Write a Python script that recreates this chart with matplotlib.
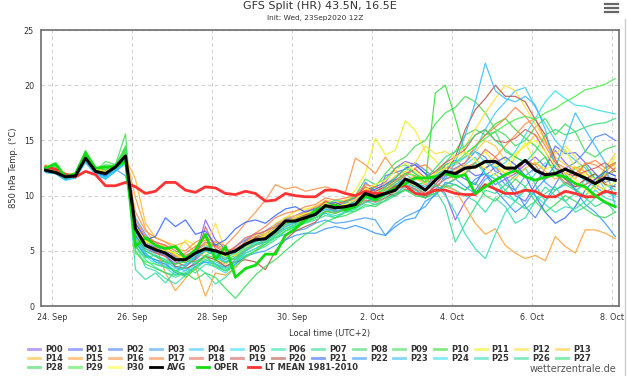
import numpy as np
import pandas as pd
import matplotlib
matplotlib.use("Agg")
import matplotlib.pyplot as plt
import matplotlib.dates as mdates
from matplotlib.lines import Line2D

# 6-hourly steps, local time (UTC+2), run 23Sep2020 12Z
times = pd.date_range("2020-09-23 20:00", periods=58, freq="6h")

avg = [12.3, 12.1, 11.7, 11.8, 13.4, 12.2, 12.0, 12.6, 13.6,
       7.0, 5.5, 5.1, 4.8, 4.2, 4.2, 4.8, 5.2, 5.0, 4.7, 5.0, 5.6, 6.0, 6.1, 6.8, 7.7, 7.7, 8.0, 8.3,
       9.1, 8.9, 9.0, 9.2, 10.2, 9.9, 10.2, 10.5, 11.5, 11.1, 10.5, 11.4, 12.2,
       12.0, 12.5, 12.6, 13.1, 13.1, 12.5, 12.5, 13.2, 12.3, 11.9, 12.0, 12.4, 12.0, 11.6, 11.1, 11.6, 11.4]

oper = [12.5, 12.9, 11.7, 12.0, 13.9, 12.5, 12.6, 12.6, 13.1,
        5.4, 6.2, 5.5, 5.2, 5.4, 4.3, 5.1, 6.5, 4.2, 5.4, 2.6, 3.4, 3.7, 4.7, 4.7, 6.4, 7.0, 7.8, 8.7,
        9.0, 9.15, 8.7, 9.0, 10.0, 9.6, 10.2, 10.7, 11.1, 11.6, 11.6, 11.7, 12.0,
        11.7, 11.9, 10.2, 10.8, 11.4, 11.9, 12.3, 11.7, 11.4, 11.7, 11.9, 11.7, 11.1, 10.8, 10.0, 9.4, 9.0]

lt_mean = [12.6, 12.4, 11.9, 11.7, 12.2, 11.9, 10.9, 10.9, 11.2,
           10.8, 10.2, 10.4, 11.2, 11.2, 10.5, 10.3, 10.8, 10.7, 10.2, 10.1, 10.4, 10.2, 9.5, 9.6, 10.2, 10.0, 9.9, 9.9,
           10.5, 10.5, 10.2, 10.0, 10.4, 10.2, 10.2, 10.8, 10.9, 10.2, 10.1, 10.5, 10.5,
           10.2, 10.1, 10.1, 11.0, 10.6, 10.2, 10.2, 10.5, 10.4, 9.9, 9.9, 10.4, 10.2, 9.9, 9.9, 10.4, 10.2]

p00 = [12.4, 12.2, 11.8, 11.9, 13.3, 12.3, 12.1, 12.7, 13.8,
       7.5, 6.2, 5.8, 5.0, 4.6, 3.9, 4.5, 7.8, 6.0, 5.2, 4.8, 5.5, 6.2, 6.8, 7.4, 7.9, 8.2, 8.6, 8.9,
       9.3, 9.0, 9.4, 9.8, 10.5, 10.8, 11.2, 12.5, 13.1, 12.8, 12.0, 11.0, 10.2,
       7.8, 9.5, 10.5, 11.8, 12.6, 11.5, 12.0, 12.8, 13.5, 12.6, 14.1, 13.0, 12.0, 11.5, 11.0, 12.2, 11.8]
p01 = [12.2, 12.0, 11.6, 11.7, 13.5, 12.1, 11.9, 12.5, 13.5,
       6.8, 5.4, 4.9, 4.6, 3.8, 4.5, 4.2, 5.0, 5.6, 5.2, 4.6, 5.9, 6.3, 6.0, 7.2, 7.5, 8.0, 8.1, 8.4,
       9.0, 8.6, 8.8, 9.6, 10.0, 9.5, 11.8, 12.1, 12.4, 13.0, 12.3, 11.5, 12.8,
       13.2, 12.5, 11.8, 12.0, 11.0, 11.5, 10.0, 9.5, 11.0, 12.5, 14.5, 13.8, 13.9, 13.0, 12.0, 11.2, 11.6]
p02 = [12.5, 12.3, 11.9, 11.8, 13.2, 12.4, 12.2, 12.8, 14.0,
       7.2, 5.8, 5.3, 5.2, 4.4, 4.0, 5.0, 5.6, 4.8, 4.2, 5.4, 6.0, 6.6, 6.5, 7.0, 7.8, 7.6, 8.2, 8.5,
       9.5, 9.0, 9.3, 9.5, 11.2, 10.4, 10.8, 11.5, 11.0, 10.6, 9.8, 10.5, 11.8,
       12.5, 13.0, 14.0, 13.5, 12.2, 11.8, 10.5, 9.0, 8.0, 9.5, 11.0, 12.5, 13.0, 14.0, 15.3, 15.6, 15.0]
p03 = [12.1, 12.0, 11.5, 11.6, 13.6, 12.0, 11.8, 12.4, 11.8,
       8.0, 6.5, 5.5, 4.8, 3.5, 3.2, 4.0, 4.5, 3.8, 3.5, 4.2, 5.0, 5.5, 5.8, 6.2, 6.5, 6.8, 7.0, 7.5,
       7.8, 7.5, 7.6, 7.8, 8.0, 7.8, 6.4, 7.5, 8.1, 8.5, 9.0, 10.2, 11.0,
       11.5, 10.8, 10.2, 11.5, 12.0, 11.0, 10.5, 11.8, 12.5, 11.2, 10.5, 11.0, 12.0, 11.4, 10.8, 10.2, 11.0]
p04 = [12.3, 12.1, 11.6, 11.8, 13.3, 12.2, 11.6, 12.3, 13.2,
       6.5, 5.0, 4.5, 4.0, 3.0, 3.6, 4.3, 5.5, 4.5, 4.0, 4.4, 5.2, 5.8, 6.3, 7.2, 8.0, 7.8, 8.4, 8.6,
       9.2, 8.8, 9.0, 9.5, 10.5, 9.8, 10.0, 10.8, 12.0, 11.2, 10.5, 11.8, 12.5,
       12.8, 13.5, 14.2, 16.0, 17.5, 18.5, 19.5, 19.8, 18.0, 16.5, 15.0, 14.0, 13.2, 12.5, 11.5, 12.0, 11.2]
p05 = [12.2, 12.0, 11.4, 11.7, 13.1, 12.1, 11.5, 12.2, 13.0,
       6.0, 4.5, 3.8, 3.5, 2.8, 3.2, 3.8, 4.0, 3.5, 3.0, 3.8, 4.8, 5.2, 5.6, 6.4, 7.0, 7.3, 7.8, 8.0,
       8.6, 8.8, 9.0, 9.0, 9.8, 9.5, 9.8, 10.0, 11.0, 10.5, 10.0, 10.8, 11.5,
       12.0, 12.8, 13.5, 12.0, 11.5, 10.0, 9.5, 10.8, 12.0, 13.0, 12.5, 11.5, 10.5, 11.0, 12.0, 10.5, 9.8]
p06 = [12.4, 12.2, 11.8, 11.9, 13.6, 12.3, 12.0, 12.6, 13.7,
       5.5, 4.2, 3.5, 3.0, 2.6, 3.0, 3.6, 3.0, 2.0, 2.6, 3.5, 4.5, 5.0, 5.6, 6.2, 6.8, 7.2, 7.6, 8.0,
       8.4, 8.0, 8.5, 8.8, 9.5, 9.2, 9.8, 10.2, 10.8, 10.5, 10.0, 10.2, 11.0,
       10.5, 10.0, 9.5, 8.5, 9.8, 9.0, 7.5, 8.0, 9.5, 10.8, 10.0, 9.5, 10.2, 11.5, 12.0, 11.0, 10.5]
p07 = [12.3, 12.4, 11.7, 11.8, 13.9, 12.4, 12.1, 12.8, 14.2,
       6.2, 4.8, 4.0, 3.8, 3.2, 2.8, 3.3, 4.2, 4.0, 3.6, 4.0, 5.0, 5.5, 6.0, 6.5, 7.2, 7.5, 7.8, 8.2,
       8.8, 8.5, 8.6, 9.0, 9.8, 9.6, 10.0, 10.6, 11.2, 10.8, 10.2, 10.5, 9.0,
       5.8, 7.5, 9.0, 10.5, 10.2, 11.0, 11.8, 12.5, 11.0, 9.5, 10.5, 11.2, 10.6, 9.8, 9.0, 9.5, 8.5]
p08 = [12.6, 12.3, 11.9, 12.0, 13.2, 12.5, 12.3, 12.9, 13.9,
       5.8, 4.5, 4.2, 4.0, 3.5, 3.8, 4.4, 5.0, 4.6, 4.2, 4.6, 5.4, 5.8, 6.2, 7.0, 7.6, 7.9, 8.2, 8.6,
       9.4, 9.2, 9.5, 10.0, 11.5, 11.0, 11.5, 12.5, 12.8, 12.0, 11.2, 12.0, 13.0,
       14.0, 15.5, 16.0, 15.5, 15.8, 14.0, 13.5, 13.0, 12.8, 13.5, 12.0, 11.0, 10.5, 10.0, 11.0, 12.5, 13.0]
p09 = [12.3, 12.9, 11.6, 11.8, 14.1, 12.2, 13.1, 12.8, 15.6,
       5.2, 5.8, 5.5, 5.3, 4.8, 4.4, 4.0, 4.6, 5.0, 4.5, 4.2, 5.0, 5.6, 6.0, 6.5, 7.0, 7.4, 7.8, 8.0,
       8.5, 8.8, 9.2, 9.5, 10.2, 10.8, 12.0, 13.0, 13.5, 14.5, 15.0, 16.5, 17.5,
       18.0, 19.0, 18.5, 17.5, 16.0, 15.5, 14.5, 15.0, 16.2, 17.0, 15.5, 16.5, 15.8, 14.0, 13.5, 14.2, 14.5]
p10 = [12.5, 12.8, 11.8, 12.0, 13.8, 12.4, 12.4, 12.6, 14.3,
       6.5, 5.0, 4.5, 4.0, 3.8, 4.0, 4.5, 5.0, 4.8, 4.4, 4.8, 5.5, 5.8, 6.2, 7.0, 7.6, 7.8, 8.3, 8.7,
       9.3, 9.0, 9.0, 9.4, 10.0, 9.8, 10.5, 11.0, 11.4, 11.0, 11.2, 19.3, 20.0,
       17.0, 13.8, 14.5, 15.5, 16.5, 17.0, 16.0, 15.2, 14.5, 13.5, 12.0, 11.5, 12.5, 12.8, 11.5, 12.0, 12.2]
p11 = [12.6, 12.2, 11.9, 11.8, 13.4, 12.3, 12.0, 12.6, 13.6,
       6.0, 5.5, 5.2, 5.0, 4.8, 6.0, 5.5, 4.8, 5.8, 5.0, 4.6, 5.8, 6.2, 6.5, 7.5, 8.0, 8.6, 8.8, 9.0,
       9.5, 9.2, 9.6, 10.5, 12.0, 15.2, 13.7, 14.1, 16.8, 15.9, 14.0, 13.2, 12.0,
       11.5, 12.2, 13.0, 14.0, 12.8, 12.0, 13.5, 14.8, 13.0, 12.4, 12.8, 14.2, 12.5, 11.8, 10.5, 12.0, 13.5]
p12 = [12.7, 12.3, 11.8, 11.9, 13.3, 12.4, 12.1, 12.7, 13.8,
       7.0, 5.8, 5.5, 5.2, 4.6, 4.0, 4.8, 5.4, 7.5, 5.0, 4.5, 5.2, 6.0, 6.3, 6.8, 7.4, 7.6, 7.9, 8.4,
       9.0, 9.3, 9.2, 9.4, 10.8, 10.0, 10.4, 11.2, 12.2, 13.0, 14.5, 13.8, 14.0,
       13.5, 14.5, 16.0, 17.5, 18.8, 20.0, 19.5, 18.0, 16.5, 15.0, 13.8, 14.5, 13.5, 12.0, 11.5, 11.0, 12.8]
p13 = [12.8, 12.4, 12.0, 12.0, 13.2, 12.5, 12.2, 12.8, 13.9,
       7.4, 6.0, 5.6, 5.4, 4.5, 4.4, 5.2, 5.6, 5.0, 4.6, 5.0, 5.6, 6.4, 6.6, 7.2, 8.0, 8.2, 8.4, 8.8,
       9.6, 9.4, 9.6, 9.8, 10.6, 10.2, 11.0, 11.8, 12.2, 11.8, 11.0, 11.6, 12.4,
       12.8, 13.6, 14.0, 15.0, 14.5, 13.2, 13.8, 14.5, 15.5, 14.8, 13.5, 12.8, 12.5, 11.6, 11.2, 12.5, 13.8]
p14 = [12.7, 12.3, 11.9, 11.9, 13.5, 12.3, 12.0, 12.6, 13.4,
       11.5, 7.5, 6.2, 5.8, 5.5, 5.8, 4.8, 4.5, 4.2, 3.8, 4.4, 5.0, 5.5, 6.0, 6.8, 7.5, 7.8, 8.2, 8.6,
       9.4, 9.0, 9.2, 9.5, 10.4, 10.5, 11.2, 10.8, 11.5, 11.5, 11.2, 11.5, 12.0,
       12.2, 12.8, 12.5, 13.0, 12.6, 12.0, 11.5, 12.5, 13.0, 12.2, 11.5, 12.0, 12.6, 12.2, 11.0, 10.5, 10.2]
p15 = [12.6, 12.2, 11.8, 11.8, 13.3, 12.2, 11.9, 12.7, 13.7,
       9.8, 7.0, 5.5, 3.0, 1.4, 2.5, 3.5, 0.9, 3.0, 2.8, 3.5, 4.5, 5.0, 5.8, 6.5, 7.2, 8.0, 8.5, 9.0,
       9.4, 9.0, 9.5, 9.6, 10.0, 10.2, 10.5, 11.0, 11.4, 11.8, 11.5, 11.0, 10.8,
       10.5, 9.0, 7.5, 6.5, 7.0, 5.5, 4.8, 4.3, 4.6, 4.1, 6.3, 5.4, 4.8, 6.9, 6.9, 6.6, 6.1]
p16 = [12.5, 12.1, 11.7, 11.9, 13.4, 12.3, 12.0, 12.5, 13.5,
       8.5, 6.8, 6.2, 5.8, 5.2, 5.0, 5.8, 6.2, 5.8, 5.5, 6.4, 7.5, 8.5, 9.6, 11.0, 10.6, 10.8, 10.4, 10.6,
       10.8, 10.5, 10.3, 13.4, 12.8, 12.0, 13.5, 12.2, 11.5, 10.8, 11.0, 10.4, 11.0,
       11.5, 12.0, 12.8, 12.4, 13.5, 14.5, 15.5, 16.5, 17.0, 15.0, 13.0, 12.0, 11.5, 13.0, 12.8, 12.2, 12.9]
p17 = [12.4, 12.2, 11.8, 11.8, 13.2, 12.2, 12.1, 12.6, 13.6,
       7.8, 6.3, 5.8, 5.5, 4.5, 4.8, 5.4, 6.0, 5.5, 5.0, 5.2, 5.8, 6.6, 7.2, 8.0, 8.4, 8.6, 9.0, 9.2,
       9.8, 9.6, 9.8, 10.0, 11.0, 10.8, 10.6, 11.2, 11.8, 12.5, 12.8, 12.0, 12.6,
       12.4, 13.0, 14.5, 15.5, 16.2, 17.0, 18.0, 17.2, 16.0, 14.5, 13.0, 12.5, 12.0, 12.8, 13.2, 12.5, 13.0]
p18 = [12.3, 12.1, 11.9, 11.7, 13.4, 12.3, 12.0, 12.5, 13.5,
       7.0, 6.0, 5.8, 5.5, 5.0, 4.6, 5.0, 5.8, 5.4, 4.8, 5.4, 6.2, 6.5, 6.8, 7.2, 7.8, 8.0, 8.3, 8.5,
       9.0, 8.6, 8.8, 9.2, 9.6, 9.4, 9.8, 10.4, 11.0, 10.6, 10.2, 10.8, 11.5,
       11.8, 12.5, 13.0, 14.2, 13.5, 12.5, 12.0, 13.2, 12.8, 11.5, 12.0, 11.2, 10.8, 11.0, 11.5, 11.8, 12.5]
p19 = [12.5, 12.3, 12.0, 11.8, 13.5, 12.4, 12.1, 12.6, 13.7,
       6.8, 5.6, 5.2, 4.8, 4.0, 3.6, 4.2, 7.2, 5.2, 4.6, 5.0, 5.6, 6.2, 6.4, 7.0, 7.6, 7.8, 8.2, 8.6,
       9.5, 9.2, 9.5, 9.8, 10.8, 10.4, 10.8, 11.4, 12.0, 12.4, 11.6, 12.2, 13.0,
       13.5, 14.2, 15.5, 16.0, 15.0, 14.8, 15.2, 16.0, 15.5, 14.0, 12.5, 12.0, 11.8, 12.2, 12.5, 13.0, 12.2]
p20 = [12.4, 12.2, 11.9, 11.9, 13.3, 12.2, 11.9, 12.7, 13.8,
       6.4, 5.2, 4.8, 4.5, 3.6, 3.4, 3.8, 4.5, 4.2, 3.6, 4.0, 4.2, 4.0, 3.3, 5.0, 6.0, 6.8, 7.2, 7.6,
       8.6, 8.4, 8.8, 9.0, 9.4, 9.8, 10.2, 10.0, 10.6, 10.2, 9.8, 11.0, 12.0,
       13.5, 16.0, 17.8, 18.8, 20.0, 19.0, 19.0, 18.5, 16.9, 15.5, 13.3, 11.5, 10.8, 11.5, 12.0, 11.0, 10.8]
p21 = [12.3, 12.0, 11.6, 11.7, 13.4, 12.1, 11.8, 12.4, 13.6,
       7.5, 6.0, 6.3, 8.0, 7.2, 7.8, 6.5, 6.8, 5.5, 6.0, 7.0, 7.6, 7.8, 7.5, 8.2, 8.8, 9.0, 8.5, 8.8,
       9.2, 9.4, 9.0, 9.6, 10.2, 10.6, 11.0, 11.6, 12.5, 12.8, 12.0, 11.5, 12.2,
       12.0, 11.5, 11.0, 12.5, 13.0, 13.5, 12.8, 11.8, 10.0, 8.5, 7.5, 8.0, 9.0, 10.5, 11.5, 12.2, 11.8]
p22 = [12.2, 12.1, 11.5, 11.7, 13.2, 12.0, 11.7, 12.3, 13.2,
       5.8, 4.6, 4.2, 3.8, 3.0, 2.8, 3.6, 4.0, 3.8, 3.2, 3.8, 4.5, 4.8, 5.0, 5.5, 6.0, 6.4, 6.6, 6.6,
       7.0, 7.2, 7.0, 7.3, 7.0, 6.6, 6.4, 7.2, 7.8, 8.0, 9.5, 10.0, 11.2,
       11.0, 10.5, 11.5, 12.0, 10.5, 9.5, 8.5, 9.2, 10.5, 11.5, 12.8, 12.0, 10.5, 9.2, 8.5, 7.5, 6.3]
p23 = [12.1, 12.0, 11.4, 11.6, 13.0, 11.9, 11.5, 12.2, 12.9,
       6.2, 4.8, 4.0, 3.6, 3.2, 3.6, 4.5, 5.0, 4.6, 4.0, 4.4, 5.0, 5.6, 6.0, 6.6, 7.2, 7.6, 8.0, 8.2,
       8.8, 8.6, 8.8, 9.2, 9.8, 9.6, 10.2, 11.0, 11.6, 11.2, 10.8, 11.8, 11.5,
       13.0, 15.5, 18.5, 22.0, 19.5, 18.8, 18.5, 19.0, 18.2, 16.0, 12.5, 15.0, 17.5, 16.0, 14.5, 13.0, 9.0]
p24 = [12.2, 12.1, 11.5, 11.7, 13.2, 12.0, 11.6, 12.4, 13.3,
       6.6, 5.2, 4.6, 4.2, 3.4, 3.8, 4.6, 5.2, 4.8, 4.4, 4.8, 5.5, 5.8, 6.2, 6.8, 7.4, 7.6, 8.0, 8.3,
       9.0, 8.8, 9.1, 9.4, 10.0, 9.8, 10.4, 10.9, 11.5, 11.0, 10.6, 11.5, 12.5,
       13.0, 13.5, 14.0, 13.0, 12.5, 13.0, 14.0, 15.5, 17.0, 18.5, 19.5, 18.8, 18.2, 18.1, 17.8, 17.6, 17.4]
p25 = [12.3, 12.2, 11.7, 11.8, 13.5, 12.2, 11.9, 12.5, 13.5,
       5.6, 3.5, 3.2, 2.5, 2.0, 2.8, 3.6, 4.2, 3.8, 3.4, 4.0, 4.8, 5.2, 5.8, 6.4, 7.0, 7.3, 7.6, 8.0,
       8.4, 8.2, 8.5, 8.8, 9.4, 9.6, 10.0, 10.5, 11.0, 10.8, 10.5, 11.0, 10.0,
       8.5, 6.5, 5.2, 4.3, 6.5, 8.5, 9.5, 10.5, 10.0, 9.2, 8.5, 9.0, 8.8, 9.5, 10.5, 9.8, 9.5]
p26 = [12.4, 12.3, 11.8, 11.9, 13.7, 12.3, 12.1, 12.6, 13.8,
       3.3, 2.4, 3.0, 2.1, 3.2, 3.5, 3.0, 3.8, 3.6, 3.2, 4.0, 4.6, 5.0, 5.4, 6.0, 6.8, 7.2, 7.5, 7.8,
       8.2, 8.0, 8.5, 8.6, 9.0, 9.2, 9.5, 10.0, 10.5, 10.2, 9.8, 10.5, 11.0,
       11.5, 12.0, 13.0, 12.0, 11.5, 10.5, 9.5, 8.8, 9.5, 10.2, 10.8, 9.5, 8.5, 9.0, 9.8, 10.5, 10.0]
p27 = [12.5, 12.6, 11.7, 11.8, 13.8, 12.4, 12.6, 12.8, 14.0,
       5.4, 4.4, 4.6, 4.2, 3.8, 4.2, 3.8, 4.6, 4.4, 3.9, 4.4, 5.2, 5.6, 5.8, 6.6, 7.4, 7.8, 8.1, 8.5,
       9.2, 9.6, 9.4, 9.9, 10.4, 10.0, 10.8, 11.6, 12.5, 12.0, 11.5, 12.5, 13.5,
       14.0, 14.5, 15.5, 16.0, 15.0, 14.2, 13.5, 13.0, 14.0, 15.5, 16.0, 15.5, 15.8, 16.2, 16.5, 16.6, 17.0]
p28 = [12.4, 12.7, 11.6, 11.9, 14.0, 12.3, 12.8, 12.7, 14.5,
       5.0, 3.8, 3.4, 3.0, 2.8, 3.0, 2.4, 3.0, 2.6, 1.6, 0.7, 1.8, 2.8, 3.6, 4.2, 5.0, 5.8, 6.5, 7.0,
       7.6, 8.0, 8.2, 8.6, 9.2, 9.0, 9.6, 10.2, 10.5, 10.0, 9.8, 10.2, 10.8,
       11.0, 10.5, 11.2, 10.0, 9.5, 10.5, 11.5, 10.8, 9.5, 8.5, 9.2, 10.0, 9.5, 8.8, 8.2, 8.0, 8.5]
p29 = [12.3, 12.5, 11.7, 11.8, 13.9, 12.4, 12.5, 12.6, 14.1,
       4.8, 4.0, 3.8, 3.5, 3.2, 2.6, 3.4, 4.5, 3.6, 3.2, 3.6, 4.4, 5.0, 5.6, 6.2, 6.8, 7.2, 7.6, 8.0,
       8.6, 8.4, 8.8, 9.2, 9.8, 10.2, 10.6, 11.2, 12.0, 11.8, 11.2, 12.0, 12.8,
       13.0, 13.8, 14.5, 15.2, 15.8, 16.4, 16.9, 17.2, 16.9, 17.5, 17.9, 18.5, 19.0, 19.6, 19.8, 20.1, 20.6]
p30 = [12.6, 12.3, 11.9, 11.9, 13.4, 12.4, 12.1, 12.7, 13.7,
       7.2, 5.9, 5.6, 5.2, 4.7, 4.2, 4.8, 5.2, 4.9, 4.5, 5.0, 5.6, 6.0, 6.4, 7.0, 7.6, 8.0, 8.4, 8.6,
       9.3, 9.0, 9.2, 9.6, 10.6, 11.0, 11.4, 12.2, 13.0, 12.2, 11.5, 12.0, 12.5,
       13.5, 14.0, 13.2, 12.5, 11.8, 12.5, 13.8, 14.5, 15.0, 14.0, 12.8, 12.0, 11.5, 10.5, 9.8, 10.8, 11.2]

members = [p00, p01, p02, p03, p04, p05, p06, p07, p08, p09, p10,
           p11, p12, p13, p14, p15, p16, p17, p18, p19, p20,
           p21, p22, p23, p24, p25, p26, p27, p28, p29, p30]
member_names = ["P%02d" % i for i in range(31)]
member_colors = ["#8a5cf5", "#5a6cff", "#4d7fff", "#3fa0ff", "#3cc8ff", "#33e0f0", "#2ee0a8",
                 "#33d98c", "#3ad86a", "#44dd55", "#33dd33", "#f0f020", "#ffe033", "#ffcc33",
                 "#ffb833", "#ffa033", "#ff9040", "#ff8040", "#e86a5a", "#d45a5a", "#b8504a",
                 "#3366ff", "#3399ff", "#33bbff", "#33ddee", "#33ddbb", "#33dd99", "#33dd77",
                 "#33dd55", "#44ee44", "#ffff33"]

tick_days = pd.date_range("2020-09-24", "2020-10-08", freq="2D")
tick_labels = ["24. Sep", "26. Sep", "28. Sep", "30. Sep", "2. Oct", "4. Oct", "6. Oct", "8. Oct"]

fig = plt.figure(figsize=(6.27, 3.76), dpi=100)
ax = fig.add_axes([0.0654, 0.186, 0.922, 0.734])

for vals, col in zip(members, member_colors):
    ax.plot(times, vals, color=col, lw=0.9, alpha=0.85, zorder=2)
ax.plot(times, lt_mean, color="#ff3333", lw=2.0, zorder=3)
ax.plot(times, oper, color="#11dd11", lw=2.0, zorder=4)
ax.plot(times, avg, color="#000000", lw=2.2, zorder=5)

x0 = mdates.date2num(pd.Timestamp("2020-09-24"))
ax.set_xlim(x0 - 0.28, x0 + 14.18)
ax.set_ylim(0, 25)
ax.set_yticks([0, 5, 10, 15, 20, 25])
ax.set_xticks(tick_days)
ax.set_xticklabels(tick_labels)
ax.tick_params(length=0, labelsize=5.8, colors="#333333", pad=5)
ax.grid(True, color="#d0d0d0", ls=(0, (3, 3)), lw=0.8)
for s in ax.spines.values():
    s.set_color("#777777")
    s.set_linewidth(1.3)
ax.set_ylabel("850 hPa Temp. (°C)", fontsize=6, color="#333333", labelpad=4)
ax.set_xlabel("Local time (UTC+2)", fontsize=6, color="#333333", labelpad=5)

fig.text(0.51, 0.985, "GFS Split (HR) 43.5N, 16.5E", ha="center", va="center",
         fontsize=8, color="#333333")
fig.text(0.502, 0.952, "Init: Wed, 23Sep2020 12Z", ha="center", va="center",
         fontsize=5.3, color="#333333")

# menu icon
for yy in [4, 8, 12]:
    fig.add_artist(Line2D([605 / 627, 618 / 627], [1 - yy / 376, 1 - yy / 376],
                          color="#666666", lw=1.6))
fig.add_artist(Line2D([625 / 627, 625 / 627], [0, 0.95], color="#cccccc", lw=1.0))

# legend, drawn by hand
def legend_item(xpx, ypx, col, name, alpha=0.6, lw=2.0):
    yf = 1 - ypx / 376
    fig.add_artist(Line2D([xpx / 627, (xpx + 12) / 627], [yf, yf], color=col, lw=lw, alpha=alpha))
    fig.text((xpx + 17) / 627, yf, name, ha="left", va="center", fontsize=6,
             fontweight="bold", color="#333333")

pitch = 40.6
for i, (name, col) in enumerate(zip(member_names, member_colors)):
    row = i // 14
    colidx = i % 14
    legend_item(28 + colidx * pitch, 349 + row * 9.2, col, name)

legend_item(150, 367.4, "#000000", "AVG", alpha=1.0)
legend_item(197, 367.4, "#11dd11", "OPER", alpha=1.0)
legend_item(248, 367.4, "#ff3333", "LT MEAN 1981-2010", alpha=1.0)

fig.text(0.983, 0.004, "wetterzentrale.de", ha="right", va="bottom", fontsize=7, color="#555555")

fig.savefig("out.png", dpi=100)
